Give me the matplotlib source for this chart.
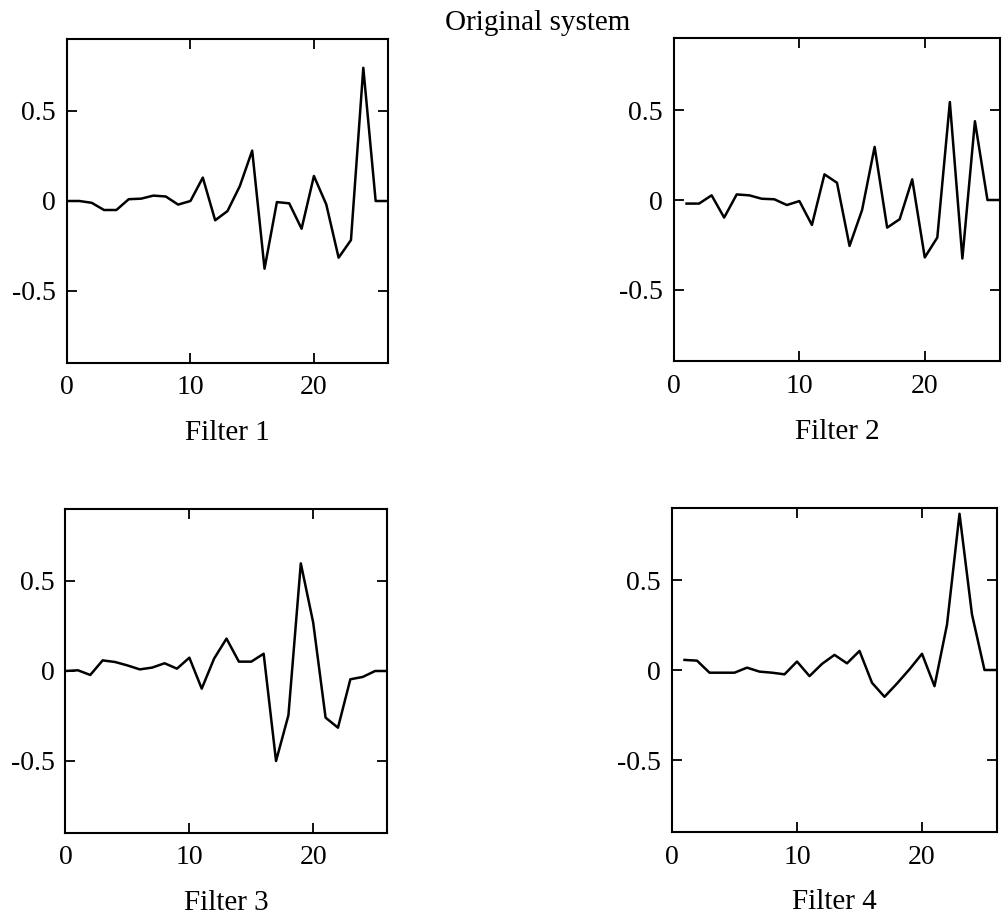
import matplotlib
matplotlib.use("Agg")
from matplotlib import pyplot as plt

plt.rcParams['font.family'] = ['Liberation Serif', 'DejaVu Serif']
plt.rcParams['axes.unicode_minus'] = False

# impulse responses of the original system and the four filters
x1 = list(range(0, 27))
h1 = [0.0, 0.0, -0.01, -0.05, -0.05, 0.01, 0.013, 0.03, 0.025, -0.02, 0.0,
      0.13, -0.107, -0.056, 0.083, 0.28, -0.376, -0.006, -0.013, -0.154, 0.139,
      -0.019, -0.315, -0.217, 0.74, 0.0, 0.0]

x2 = list(range(1, 27))
h2 = [-0.02, -0.02, 0.026, -0.098, 0.031, 0.026, 0.007, 0.004, -0.028, -0.006,
      -0.139, 0.143, 0.096, -0.256, -0.056, 0.296, -0.154, -0.107, 0.115, -0.32,
      -0.209, 0.546, -0.326, 0.439, 0.0, 0.0]

x3 = list(range(0, 27))
h3 = [0.0, 0.004, -0.022, 0.059, 0.05, 0.031, 0.009, 0.019, 0.043, 0.013, 0.074,
      -0.098, 0.069, 0.18, 0.052, 0.052, 0.096, -0.5, -0.246, 0.598, 0.269,
      -0.259, -0.315, -0.046, -0.033, 0.0, 0.0]

x4 = list(range(1, 27))
h4 = [0.056, 0.052, -0.015, -0.015, -0.015, 0.013, -0.009, -0.015, -0.024, 0.047,
      -0.034, 0.034, 0.084, 0.037, 0.106, -0.071, -0.149, -0.075, 0.004, 0.09,
      -0.09, 0.252, 0.868, 0.308, 0.0, 0.0]

labels = ["Filter 1", "Filter 2", "Filter 3", "Filter 4"]

W, H = 1004, 921
fig = plt.figure(figsize=(W / 100, H / 100), dpi=100)

# axes boxes in pixels: left, top, right, bottom
boxes = [(67, 39, 388, 363), (674, 38.5, 1000, 361.5),
         (65.5, 509, 387.5, 833), (672, 508, 997, 832)]
series = [(x1, h1), (x2, h2), (x3, h3), (x4, h4)]

for (l, t, r, b), (x, h), lab in zip(boxes, series, labels):
    ax = fig.add_axes([l / W, 1 - b / H, (r - l) / W, (b - t) / H])
    ax.plot(x, h, color='black', lw=1.8)
    ax.set_xlim(0, 26)
    ax.set_ylim(-0.9, 0.9)
    ax.set_xticks([0, 10, 20])
    ax.set_yticks([-0.5, 0, 0.5])
    ax.set_yticklabels(["-0.5", "0", "0.5"])
    ax.tick_params(direction='in', top=True, right=True, length=7, width=1.3,
                   labelsize=20)
    ax.tick_params(axis='x', pad=9)
    ax.tick_params(axis='y', pad=8)
    for s in ax.spines.values():
        s.set_linewidth(1.5)
    fig.text((l + r) / 2 / W, 1 - (b + 70) / H, lab,
             ha='center', va='center', fontsize=21)

fig.text(538 / W, 1 - 23 / H, "Original system", ha='center', va='center',
         fontsize=21)

plt.savefig('out.png', dpi=100)
